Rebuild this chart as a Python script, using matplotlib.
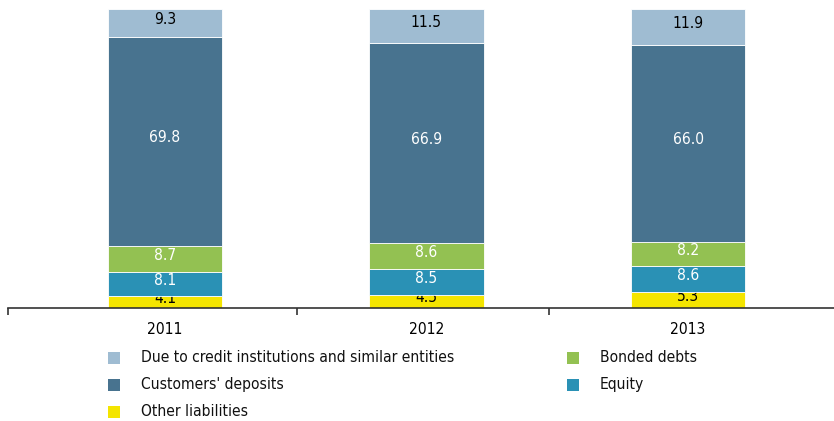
import numpy as np
import matplotlib.pyplot as plt
from matplotlib import font_manager
from matplotlib.patches import Rectangle

# =========================
# DATA
# =========================

years = ['2011', '2012', '2013']

other_liabilities = [4.1, 4.5, 5.3]
equity = [8.1, 8.5, 8.6]
bonded_debts = [8.7, 8.6, 8.2]
customers_deposits = [69.8, 66.9, 66.0]
due_to_credit = [9.3, 11.5, 11.9]

# bottom -> top
series = [
    ('Other liabilities', other_liabilities, '#f4e500', 'black'),
    ('Equity', equity, '#2a91b5', 'white'),
    ('Bonded debts', bonded_debts, '#93c152', 'white'),
    ("Customers' deposits", customers_deposits, '#48738f', 'white'),
    ('Due to credit institutions and similar entities', due_to_credit, '#9fbcd2', 'black'),
]

# =========================
# FONT (narrow if we have one)
# =========================

names = {f.name for f in font_manager.fontManager.ttflist}
condensed = [f for f in font_manager.fontManager.ttflist
             if f.name == 'DejaVu Sans' and 'condensed' in str(f.stretch)]

FS = 10.5
if 'Liberation Sans Narrow' in names:
    plt.rcParams['font.family'] = ['Liberation Sans Narrow', 'DejaVu Sans']
    FS = 13 * 0.93
elif condensed:
    plt.rcParams['font.family'] = ['DejaVu Sans']
    plt.rcParams['font.stretch'] = 'condensed'
    FS = 12 * 0.93
else:
    plt.rcParams['font.family'] = ['DejaVu Sans']

fig = plt.figure(figsize=(8.34, 4.21), dpi=100)
ax = fig.add_axes([8 / 834, 113 / 421, 826 / 834, 299 / 421])

x = np.arange(len(years))
bottom = np.zeros(len(years))

for name, vals, color, txt in series:
    vals = np.array(vals)
    ax.bar(x, vals, width=0.436, bottom=bottom, color=color,
           edgecolor='white', linewidth=0.6, label=name)
    for xi, b, v in zip(x, bottom, vals):
        # labels sit a touch above the segment centre
        ax.annotate(f'{v:.1f}', (xi, b + v / 2), xytext=(0, 2.5),
                    textcoords='offset points', ha='center', va='center',
                    color=txt, fontsize=FS, zorder=1)
    bottom += vals

ax.set_xlim(-0.6, 2.558)
ax.set_ylim(0, 100)

for s in ['top', 'right', 'left']:
    ax.spines[s].set_visible(False)
ax.spines['bottom'].set_color('#333333')
ax.spines['bottom'].set_linewidth(1.2)
ax.spines['bottom'].set_zorder(5)

ax.set_yticks([])
ax.set_xticks(x)
ax.set_xticklabels(years, fontsize=FS)
ax.tick_params(axis='x', length=0, pad=10)
ax.set_xticks([-0.6, 0.505, 1.47], minor=True)
ax.tick_params(axis='x', which='minor', length=5, width=1.2, color='#333333')

# =========================
# LEGEND (drawn by hand, two columns)
# =========================

colors = {name: color for name, vals, color, txt in series}
legend_items = [
    ('Due to credit institutions and similar entities', 108, 358),
    ("Customers' deposits", 108, 385),
    ('Other liabilities', 108, 412),
    ('Bonded debts', 567, 358),
    ('Equity', 567, 385),
]

W, H = 834, 421
for name, px, py in legend_items:
    fig.patches.append(Rectangle((px / W, 1 - (py + 6) / H), 12 / W, 12 / H,
                                 transform=fig.transFigure,
                                 facecolor=colors[name], edgecolor='none'))
    fig.text((px + 33) / W, 1 - py / H, name, ha='left', va='center',
             fontsize=FS, color='#111111')

plt.savefig('out.png', dpi=100)
